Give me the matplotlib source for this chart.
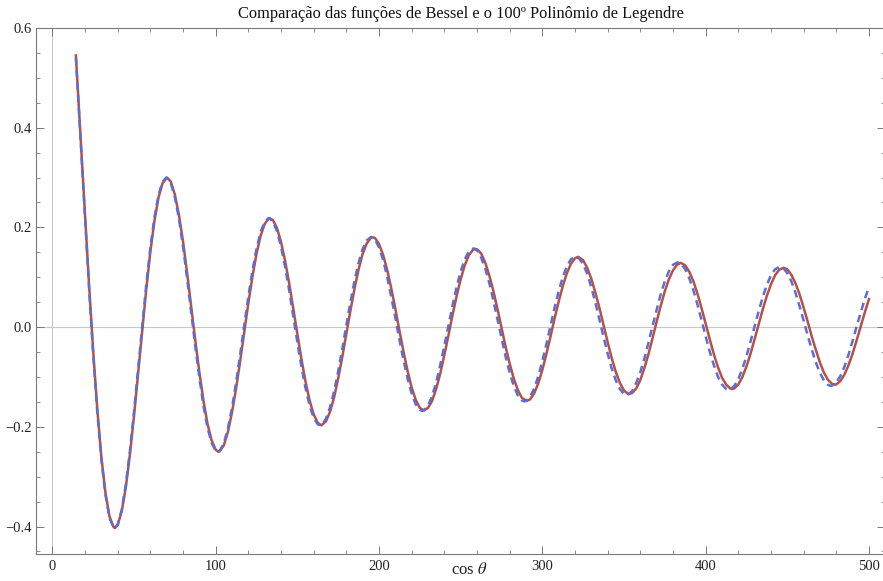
import matplotlib
matplotlib.use("Agg")
import matplotlib.pyplot as plt
from matplotlib.ticker import MultipleLocator, FixedLocator, FixedFormatter

plt.rcParams["font.family"] = ["Liberation Serif", "DejaVu Serif"]
plt.rcParams["mathtext.fontset"] = "stix"

TITLE = "Comparação das funções de Bessel e o 100º Polinômio de Legendre"
XLABEL = r"cos $\theta$"

# solid red curve (Bessel)
red_x = [14.4, 17.5, 20, 22.5, 25, 27.5, 30, 32.5, 35, 37.5, 38.3, 40, 42.5, 45, 47.5, 50,
         52.5, 55, 57.5, 60, 62.5, 65, 67.5, 70.2, 72.5, 75, 77.5, 80, 82.5, 85, 87.5, 90,
         92.5, 95, 97.5, 100, 101.7, 102.5, 105, 107.5, 110, 112.5, 115, 117.5, 120, 122.5,
         125, 127.5, 130, 132.5, 133.2, 135, 137.5, 140, 142.5, 145, 147.5, 150, 152.5, 155,
         157.5, 160, 162.5, 164.7, 167.5, 170, 172.5, 175, 177.5, 180, 182.5, 185, 187.5,
         190, 192.5, 195, 196.2, 197.5, 200, 202.5, 205, 207.5, 210, 212.5, 215, 217.5, 220,
         222.5, 225, 227.6, 230, 232.5, 235, 237.5, 240, 242.5, 245, 247.5, 250, 252.5, 255,
         257.5, 259.0, 260, 262.5, 265, 267.5, 270, 272.5, 275, 277.5, 280, 282.5, 285,
         287.5, 290.5, 292.5, 295, 297.5, 300, 302.5, 305, 307.5, 310, 312.5, 315, 317.5,
         320, 321.9, 322.5, 325, 327.5, 330, 332.5, 335, 337.5, 340, 342.5, 345, 347.5, 350,
         352.5, 353.3, 355, 357.5, 360, 362.5, 365, 367.5, 370, 372.5, 375, 377.5, 380,
         382.5, 384.7, 387.5, 390, 392.5, 395, 397.5, 400, 402.5, 405, 407.5, 410, 412.5,
         415, 416.2, 417.5, 420, 422.5, 425, 427.5, 430, 432.5, 435, 437.5, 440, 442.5, 445,
         447.6, 450, 452.5, 455, 457.5, 460, 462.5, 465, 467.5, 470, 472.5, 475, 477.5,
         479.0, 480, 482.5, 485, 487.5, 490, 492.5, 495, 497.5, 500]
red_y = [0.545, 0.369, 0.224, 0.083, -0.048, -0.164, -0.260, -0.332, -0.380, -0.401, -0.403,
         -0.397, -0.369, -0.321, -0.255, -0.178,
         -0.093, -0.007, 0.076, 0.151, 0.213, 0.260, 0.289, 0.300, 0.292, 0.266, 0.225,
         0.172, 0.109, 0.042, -0.026, -0.090,
         -0.147, -0.194, -0.227, -0.246, -0.250, -0.249, -0.237, -0.210, -0.171, -0.123,
         -0.068, -0.010, 0.048, 0.101,
         0.147, 0.183, 0.207, 0.218, 0.218, 0.215, 0.199, 0.171, 0.133, 0.088, 0.037, -0.014,
         -0.064, -0.109,
         -0.147, -0.175, -0.192, -0.197, -0.189, -0.170, -0.141, -0.103, -0.060, -0.013,
         0.033, 0.077, 0.116,
         0.147, 0.168, 0.179, 0.180, 0.179, 0.167, 0.145, 0.115, 0.078, 0.037, -0.007, -0.049,
         -0.088, -0.121,
         -0.146, -0.162, -0.167, -0.162, -0.148, -0.124, -0.093, -0.056, -0.017, 0.024, 0.062,
         0.096, 0.124, 0.144,
         0.155, 0.157, 0.156, 0.148, 0.130, 0.104, 0.073, 0.037, -0.001, -0.039, -0.073,
         -0.103, -0.126,
         -0.142, -0.148, -0.145, -0.133, -0.113, -0.086, -0.054, -0.019, 0.017, 0.051, 0.082,
         0.108, 0.127,
         0.138, 0.141, 0.140, 0.134, 0.119, 0.097, 0.069, 0.038, 0.004, -0.030, -0.062,
         -0.090, -0.112, -0.127,
         -0.134, -0.134, -0.132, -0.123, -0.106, -0.082, -0.054, -0.022, 0.011, 0.043, 0.072,
         0.096, 0.114,
         0.125, 0.129, 0.124, 0.111, 0.092, 0.067, 0.038, 0.007, -0.024, -0.054, -0.080,
         -0.101, -0.115,
         -0.123, -0.124, -0.123, -0.115, -0.100, -0.079, -0.053, -0.024, 0.006, 0.036, 0.063,
         0.086, 0.104, 0.115,
         0.119, 0.116, 0.105, 0.088, 0.066, 0.039, 0.011, -0.019, -0.046, -0.071, -0.092,
         -0.106, -0.114,
         -0.115, -0.115, -0.108, -0.095, -0.076, -0.053, -0.026, 0.002, 0.030, 0.056]

# dashed blue curve (Legendre P100)
blue_x = [14.4, 17.5, 20, 22.5, 25, 27.5, 30, 32.5, 35, 37.5, 38.1, 40, 42.5, 45, 47.5, 50,
          52.5, 55, 57.5, 60, 62.5, 65, 67.5, 69.8, 72.5, 75, 77.5, 80, 82.5, 85, 87.5, 90,
          92.5, 95, 97.5, 100, 101.2, 102.5, 105, 107.5, 110, 112.5, 115, 117.5, 120, 122.5,
          125, 127.5, 130, 132.6, 135, 137.5, 140, 142.5, 145, 147.5, 150, 152.5, 155, 157.5,
          160, 162.5, 163.9, 165, 167.5, 170, 172.5, 175, 177.5, 180, 182.5, 185, 187.5, 190,
          192.5, 195.2, 197.5, 200, 202.5, 205, 207.5, 210, 212.5, 215, 217.5, 220, 222.5,
          225, 226.5, 227.5, 230, 232.5, 235, 237.5, 240, 242.5, 245, 247.5, 250, 252.5, 255,
          257.8, 260, 262.5, 265, 267.5, 270, 272.5, 275, 277.5, 280, 282.5, 285, 287.5,
          289.0, 290, 292.5, 295, 297.5, 300, 302.5, 305, 307.5, 310, 312.5, 315, 317.5,
          320.3, 322.5, 325, 327.5, 330, 332.5, 335, 337.5, 340, 342.5, 345, 347.5, 350,
          351.6, 352.5, 355, 357.5, 360, 362.5, 365, 367.5, 370, 372.5, 375, 377.5, 380,
          382.8, 385, 387.5, 390, 392.5, 395, 397.5, 400, 402.5, 405, 407.5, 410, 412.5,
          414.1, 415, 417.5, 420, 422.5, 425, 427.5, 430, 432.5, 435, 437.5, 440, 442.5,
          445.4, 447.5, 450, 452.5, 455, 457.5, 460, 462.5, 465, 467.5, 470, 472.5, 475,
          476.6, 477.5, 480, 482.5, 485, 487.5, 490, 492.5, 495, 497.5, 500]
blue_y = [0.541, 0.364, 0.218, 0.077, -0.055, -0.170, -0.265, -0.336, -0.383, -0.402, -0.403,
          -0.396, -0.366, -0.315, -0.248, -0.169,
          -0.084, 0.003, 0.085, 0.159, 0.220, 0.265, 0.292, 0.300, 0.289, 0.261, 0.218, 0.162,
          0.098, 0.030, -0.038, -0.101,
          -0.157, -0.202, -0.232, -0.248, -0.250, -0.248, -0.233, -0.203, -0.162, -0.111,
          -0.055, 0.004, 0.061, 0.113,
          0.157, 0.191, 0.211, 0.219, 0.212, 0.193, 0.162, 0.121, 0.074, 0.022, -0.030,
          -0.079, -0.122, -0.157,
          -0.182, -0.195, -0.197, -0.196, -0.184, -0.161, -0.129, -0.089, -0.044, 0.004, 0.050,
          0.093, 0.129, 0.157,
          0.174, 0.181, 0.176, 0.160, 0.135, 0.101, 0.061, 0.019, -0.025, -0.066, -0.103,
          -0.133, -0.155,
          -0.166, -0.168, -0.167, -0.158, -0.138, -0.111, -0.076, -0.038, 0.003, 0.043, 0.080,
          0.112, 0.136, 0.152,
          0.158, 0.154, 0.140, 0.118, 0.089, 0.054, 0.016, -0.022, -0.059, -0.091, -0.118,
          -0.137, -0.147,
          -0.149, -0.148, -0.140, -0.123, -0.099, -0.068, -0.034, 0.003, 0.039, 0.072, 0.100,
          0.122, 0.136,
          0.142, 0.138, 0.126, 0.107, 0.080, 0.049, 0.015, -0.020, -0.053, -0.083, -0.107,
          -0.124, -0.134,
          -0.136, -0.135, -0.128, -0.112, -0.090, -0.063, -0.031, 0.002, 0.035, 0.066, 0.092,
          0.112, 0.125,
          0.130, 0.127, 0.116, 0.098, 0.074, 0.045, 0.014, -0.018, -0.049, -0.076, -0.099,
          -0.115, -0.124,
          -0.126, -0.125, -0.118, -0.104, -0.084, -0.058, -0.029, 0.002, 0.032, 0.061, 0.085,
          0.104, 0.116,
          0.121, 0.119, 0.108, 0.092, 0.069, 0.042, 0.013, -0.017, -0.045, -0.071, -0.092,
          -0.107, -0.116,
          -0.118, -0.117, -0.111, -0.098, -0.079, -0.055, -0.027, 0.002, 0.030, 0.057, 0.080]

x_ticks = [0, 100, 200, 300, 400, 500]
y_ticks = [-0.4, -0.2, 0.0, 0.2, 0.4, 0.6]
y_labels = ["\u22120.4", "\u22120.2", "0.0", "0.2", "0.4", "0.6"]

RED = "#b5504a"
BLUE = "#5b6fd2"
FRAME = "#7a7a7a"

fig = plt.figure(figsize=(8.83, 5.81), dpi=100)
ax = fig.add_axes([0.0408, 0.0465, 0.9618, 0.9053])

ax.axhline(0, color="#c8c8c8", lw=0.8, zorder=1)
ax.axvline(0, color="#c8c8c8", lw=0.8, zorder=1)

ax.plot(red_x, red_y, color=RED, lw=1.8, zorder=3, solid_joinstyle="round")
ax.plot(blue_x, blue_y, color=BLUE, lw=1.8, ls=(0, (3, 2)), zorder=4)

ax.set_xlim(-10, 510)
ax.set_ylim(-0.455, 0.6)

ax.xaxis.set_major_locator(FixedLocator(x_ticks))
ax.xaxis.set_minor_locator(MultipleLocator(20))
ax.yaxis.set_major_locator(FixedLocator(y_ticks))
ax.yaxis.set_major_formatter(FixedFormatter(y_labels))
ax.yaxis.set_minor_locator(MultipleLocator(0.05))

ax.tick_params(which="both", direction="in", top=True, right=True, color=FRAME,
               labelsize=10.5, labelcolor="#222222")
ax.tick_params(which="major", length=5.5, width=0.7)
ax.tick_params(which="minor", length=3, width=0.6)
ax.tick_params(axis="x", pad=4)
ax.tick_params(axis="y", pad=3)

for sp in ax.spines.values():
    sp.set_color(FRAME)
    sp.set_linewidth(0.8)

ax.set_title(TITLE, fontsize=11.8, pad=7, color="#111111")
fig.text(0.532, 0.019, XLABEL, ha="center", va="center", fontsize=12, color="#222222")

fig.savefig("out.png", dpi=100)
